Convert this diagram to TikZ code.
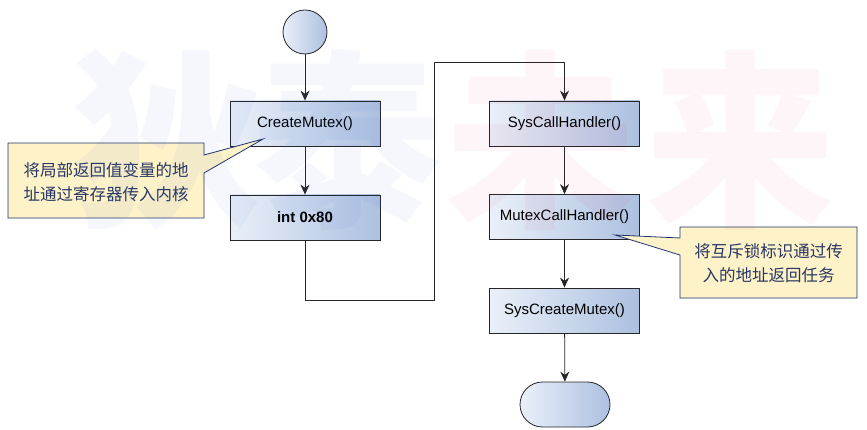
\documentclass[tikz,border=0pt]{standalone}
\usepackage{fontspec}
\setmainfont{Liberation Sans}
\newfontfamily\cjk{Noto Sans CJK SC}
\usetikzlibrary{arrows.meta,shapes.misc}
\definecolor{boxL}{RGB}{234,240,249}
\definecolor{boxR}{RGB}{172,192,224}
\definecolor{noteFill}{RGB}{253,242,200}
\definecolor{noteLine}{RGB}{30,50,110}
\definecolor{noteText}{RGB}{40,55,100}
\definecolor{wmBlue}{RGB}{50,100,210}
\definecolor{wmPink}{RGB}{210,50,100}
\begin{document}
\begin{tikzpicture}[x=1pt,y=-1pt,
  proc/.style={draw=black!85, line width=0.8pt, left color=boxL, right color=boxR,
    minimum width=150pt, minimum height=45pt, inner sep=0pt,
    font=\fontsize{15}{17}\selectfont},
  startc/.style={circle, draw=black!85, line width=0.8pt, left color=boxL, right color=boxR,
    minimum size=44pt, inner sep=0pt},
  term/.style={rounded rectangle, draw=black!85, line width=0.8pt, left color=boxL, right color=boxR,
    minimum width=90pt, minimum height=45pt, inner sep=0pt},
  arr/.style={draw=black!85, line width=0.8pt, -{Stealth[length=10pt,width=9pt]}},
  note/.style={draw=noteLine, line width=0.8pt, fill=noteFill},
  notetext/.style={text=noteText, font=\cjk\fontsize{16.5}{24}\selectfont, inner sep=0pt},
  wm/.style={font=\cjk\bfseries\fontsize{190}{190}\selectfont, inner sep=0pt, opacity=0.05}
]
\useasboundingbox (0,0) rectangle (867,430);

% nodes
\node[startc] (s) at (305,32) {};
\node[proc] (cm) at (305,123.5) {CreateMutex()};
\node[proc, font=\bfseries\fontsize{15}{17}\selectfont] (int) at (305,217.5) {int 0x80};
\node[proc] (sch) at (564.5,123.5) {SysCallHandler()};
\node[proc] (mch) at (564.5,217) {MutexCallHandler()};
\node[proc] (scm) at (564.5,310.5) {SysCreateMutex()};
\node[term] (e) at (565,404.5) {};

% connectors
\coordinate (c2) at (434,300);
\coordinate (c3) at (434,62);
\draw[arr] (s) -- (cm);
\draw[arr] (cm) -- (int);
\draw[arr] (int.south) |- (c2) -- (c3) -| (sch.north);
\draw[arr] (sch) -- (mch);
\draw[arr] (mch) -- (scm);
\draw[arr] (scm) -- (e);

% callout 1
\coordinate (tip1) at (263,139);
\path[note] (8,143) -- (204,143) -- (204,155) -- (tip1) -- (204,173) -- (204,218) -- (8,218) -- cycle;
\node[notetext, align=left] (n1) at (106,182.5) {将局部返回值变量的地\\址通过寄存器传入内核};

% callout 2
\coordinate (tip2) at (615,235);
\path[note] (680,227) -- (857,227) -- (857,298) -- (680,298) -- (680,255) -- (tip2) -- (680,238) -- cycle;
\node[notetext, align=center] (n2) at (768.5,263.5) {将互斥锁标识通过传\\入的地址返回任务};

% watermark
\node[wm, text=wmBlue] (w1) at (167,140) {狄};
\node[wm, text=wmBlue] (w2) at (347,140) {泰};
\node[wm, text=wmPink] (w3) at (540,140) {未};
\node[wm, text=wmPink] (w4) at (740,140) {来};
\end{tikzpicture}
\end{document}
